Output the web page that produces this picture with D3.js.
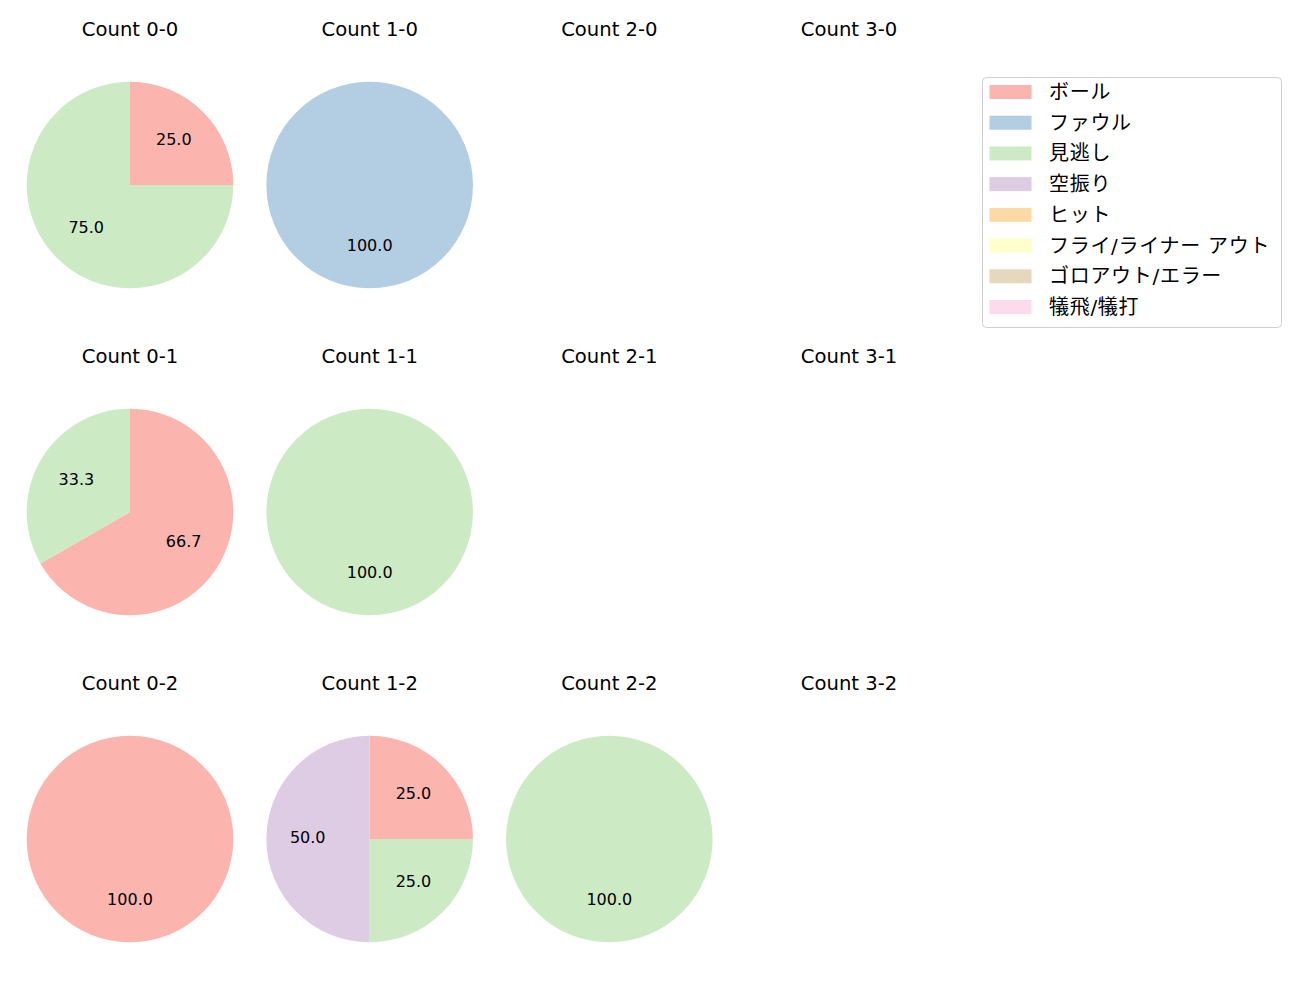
<!DOCTYPE html>
<html><head><meta charset="utf-8">
<script src="https://cdn.jsdelivr.net/npm/d3@7"></script>
<style>body{margin:0;background:#fff}</style>
</head><body>
<script>
const categories = ["ボール","ファウル","見逃し","空振り","ヒット","フライ/ライナー アウト","ゴロアウト/エラー","犠飛/犠打"];
const colors = ["#fbb4ae","#b3cde3","#ccebc5","#decbe4","#fed9a6","#ffffcc","#e5d8bd","#fddaec"];
const balls = [0,1,2,3];
const strikes = [0,1,2];
// values per panel, in category order (percent)
const count00 = [25.0,0,75.0,0,0,0,0,0];
const count10 = [0,100.0,0,0,0,0,0,0];
const count20 = [];
const count30 = [];
const count01 = [66.7,0,33.3,0,0,0,0,0];
const count11 = [0,0,100.0,0,0,0,0,0];
const count21 = [];
const count31 = [];
const count02 = [100.0,0,0,0,0,0,0,0];
const count12 = [25.0,0,25.0,50.0,0,0,0,0];
const count22 = [0,0,100.0,0,0,0,0,0];
const count32 = [];
const panels = {
  "0-0":count00,"1-0":count10,"2-0":count20,"3-0":count30,
  "0-1":count01,"1-1":count11,"2-1":count21,"3-1":count31,
  "0-2":count02,"1-2":count12,"2-2":count22,"3-2":count32
};

const W=1300,H=1000;
const FONT="'DejaVu Sans','Noto Sans CJK JP',sans-serif";
const svg=d3.select("body").append("svg").attr("width",W).attr("height",H)
  .style("font-family",FONT);

const colX=d3.scalePoint().domain(balls).range([130,849]);
const rowY=d3.scalePoint().domain(strikes).range([185,839]);
const R=103.3;
const arc=d3.arc().innerRadius(0).outerRadius(R);
const pie=d3.pie().sort(null).value(d=>d.v);

strikes.forEach(s=>{
  balls.forEach(b=>{
    const key=b+"-"+s;
    const cx=colX(b), cy=rowY(s);
    const g=svg.append("g").attr("transform",`translate(${cx},${cy})`);
    g.append("text").attr("x",0).attr("y",-149).attr("text-anchor","middle")
      .attr("font-size",19.6).attr("fill","#000").text("Count "+key);
    const vals=panels[key].map((v,i)=>({v,i})).filter(d=>d.v>0);
    if(!vals.length) return;
    const arcs=pie(vals);
    g.selectAll("path").data(arcs).join("path").attr("d",arc)
      .attr("fill",d=>colors[d.data.i]);
    g.selectAll("text.lbl").data(arcs).join("text").attr("class","lbl")
      .attr("x",d=>Math.sin((d.startAngle+d.endAngle)/2)*R*0.6)
      .attr("y",d=>-Math.cos((d.startAngle+d.endAngle)/2)*R*0.6-1.5)
      .attr("text-anchor","middle").attr("dominant-baseline","central")
      .attr("font-size",16).attr("fill","#000")
      .text(d=>d.data.v.toFixed(1));
  });
});

// legend
const lg=svg.append("g").attr("transform","translate(982,77)");
lg.append("rect").attr("x",0.5).attr("y",0.5).attr("width",299).attr("height",250)
  .attr("rx",4).attr("fill","#fff").attr("stroke","#d0d0d0");
const ly=d3.scaleLinear().domain([0,categories.length-1]).range([15,230]);
categories.forEach((c,i)=>{
  lg.append("rect").attr("x",7.5).attr("y",ly(i)-7).attr("width",42).attr("height",14).attr("fill",colors[i]);
  lg.append("text").attr("x",67).attr("y",ly(i)).attr("dominant-baseline","central")
    .attr("font-size",20).attr("letter-spacing",0.7).attr("fill","#000").text(c);
});
</script>
</body></html>
